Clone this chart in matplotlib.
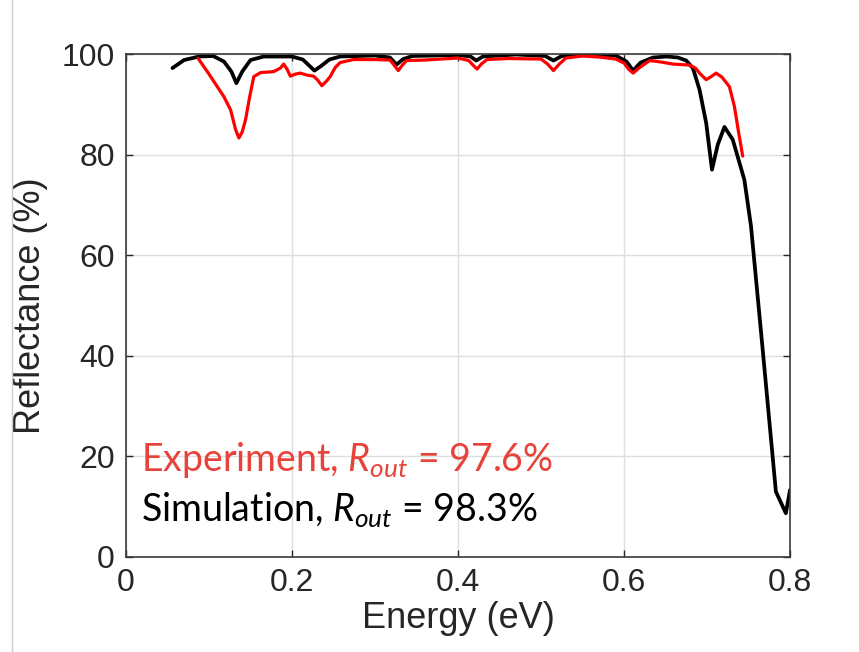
import matplotlib
matplotlib.use("Agg")
import matplotlib.pyplot as plt
from matplotlib.lines import Line2D

# Simulation curve (black)
sim_energy = [0.056, 0.070, 0.088, 0.105, 0.118, 0.127, 0.133, 0.140, 0.150, 0.166,
              0.200, 0.213, 0.222, 0.227, 0.235, 0.245, 0.258, 0.300, 0.318, 0.326,
              0.334, 0.345, 0.400, 0.415, 0.422, 0.430, 0.470, 0.505, 0.515, 0.525,
              0.560, 0.590, 0.603, 0.611, 0.620, 0.635, 0.651, 0.665, 0.675, 0.683,
              0.691, 0.699, 0.706, 0.713, 0.721, 0.731, 0.738, 0.745, 0.753, 0.767,
              0.783, 0.795, 0.800]
sim_refl = [97.2, 98.8, 99.5, 99.6, 98.5, 96.5, 94.2, 96.5, 98.8, 99.5,
            99.5, 98.9, 97.5, 96.7, 97.6, 98.9, 99.5, 99.7, 99.3, 97.9,
            99.0, 99.6, 99.8, 99.5, 98.7, 99.5, 99.9, 99.6, 98.7, 99.6,
            99.9, 99.7, 98.5, 96.7, 98.3, 99.3, 99.5, 99.3, 98.7, 97.2,
            92.9, 86.3, 77.0, 82.0, 85.5, 83.0, 79.0, 75.0, 65.8, 41.4,
            13.0, 8.7, 13.3]

# Experiment curve (red)
exp_energy = [0.087, 0.098, 0.110, 0.118, 0.126, 0.132, 0.136, 0.140, 0.144, 0.149,
              0.154, 0.162, 0.178, 0.186, 0.190, 0.194, 0.198, 0.204, 0.210, 0.218,
              0.226, 0.231, 0.236, 0.241, 0.246, 0.252, 0.258, 0.274, 0.300, 0.318,
              0.323, 0.328, 0.333, 0.338, 0.360, 0.380, 0.400, 0.413, 0.418, 0.423,
              0.428, 0.435, 0.460, 0.500, 0.508, 0.515, 0.522, 0.530, 0.550, 0.570,
              0.590, 0.600, 0.606, 0.611, 0.618, 0.631, 0.645, 0.659, 0.679, 0.686,
              0.691, 0.699, 0.705, 0.711, 0.718, 0.727, 0.733, 0.738, 0.743]
exp_refl = [99.1, 96.5, 93.5, 91.5, 88.9, 85.0, 83.3, 84.5, 86.9, 91.5,
            95.5, 96.3, 96.5, 97.2, 98.0, 97.0, 95.6, 96.0, 96.2, 95.8,
            95.6, 94.8, 93.7, 94.5, 95.5, 97.3, 98.3, 98.9, 98.9, 98.8,
            97.8, 96.7, 97.8, 98.7, 98.8, 99.0, 99.2, 98.7, 97.8, 97.0,
            98.0, 98.9, 99.1, 99.0, 98.0, 96.7, 98.0, 99.2, 99.6, 99.4,
            99.0, 98.2, 96.9, 96.2, 97.2, 98.7, 98.4, 98.0, 97.8, 97.2,
            96.2, 94.9, 95.5, 96.2, 95.4, 93.5, 89.6, 84.5, 79.7]

x_ticks = [0, 0.2, 0.4, 0.6, 0.8]
x_tick_labels = ["0", "0.2", "0.4", "0.6", "0.8"]
y_ticks = [0, 20, 40, 60, 80, 100]

exp_label = "Experiment, $R_{out}$ = 97.6%"
sim_label = "Simulation, $R_{out}$ = 98.3%"

TEXT_DARK = "#262626"
EXP_TEXT = "#e8433b"

plt.rcParams["mathtext.fontset"] = "custom"
plt.rcParams["mathtext.rm"] = "Lato"
plt.rcParams["mathtext.it"] = "Lato:italic"

W, H = 859, 652
fig = plt.figure(figsize=(W / 100, H / 100), dpi=100)
ax = fig.add_axes([126 / W, 1 - 557 / H, (790 - 126) / W, (557 - 54) / H])

ax.plot(sim_energy, sim_refl, color="black", lw=2.7, solid_joinstyle="round",
        solid_capstyle="round")
ax.plot(exp_energy, exp_refl, color="#ff0000", lw=2.3, solid_joinstyle="round",
        solid_capstyle="round")

ax.set_xlim(0, 0.8)
ax.set_ylim(0, 100)
ax.set_xticks(x_ticks)
ax.set_xticklabels(x_tick_labels)
ax.set_yticks(y_ticks)
ax.grid(True, color="#dedede", lw=1.0)
ax.set_axisbelow(True)

ax.tick_params(direction="in", length=5, width=1, top=True, right=True,
               colors=TEXT_DARK, labelsize=23, pad=8)
for lab in ax.get_xticklabels() + ax.get_yticklabels():
    lab.set_family("Liberation Sans")
for sp in ax.spines.values():
    sp.set_color("#3a3a3a")
    sp.set_linewidth(1.2)

ax.set_xlabel("Energy (eV)", fontsize=26, family="Liberation Sans", color=TEXT_DARK, labelpad=2)
ax.set_ylabel("Reflectance (%)", fontsize=26, family="Liberation Sans", color=TEXT_DARK, labelpad=10)

ax.text(0.018, 17.1, exp_label, color=EXP_TEXT, fontsize=27, family="Lato", va="baseline")
ax.text(0.018, 7.2, sim_label, color="black", fontsize=27, family="Lato", va="baseline")

# faint frame line at the left edge
fig.add_artist(Line2D([12 / W, 12 / W], [0, 1], color="#cccccc", lw=1))

fig.savefig("out.png", dpi=100)
